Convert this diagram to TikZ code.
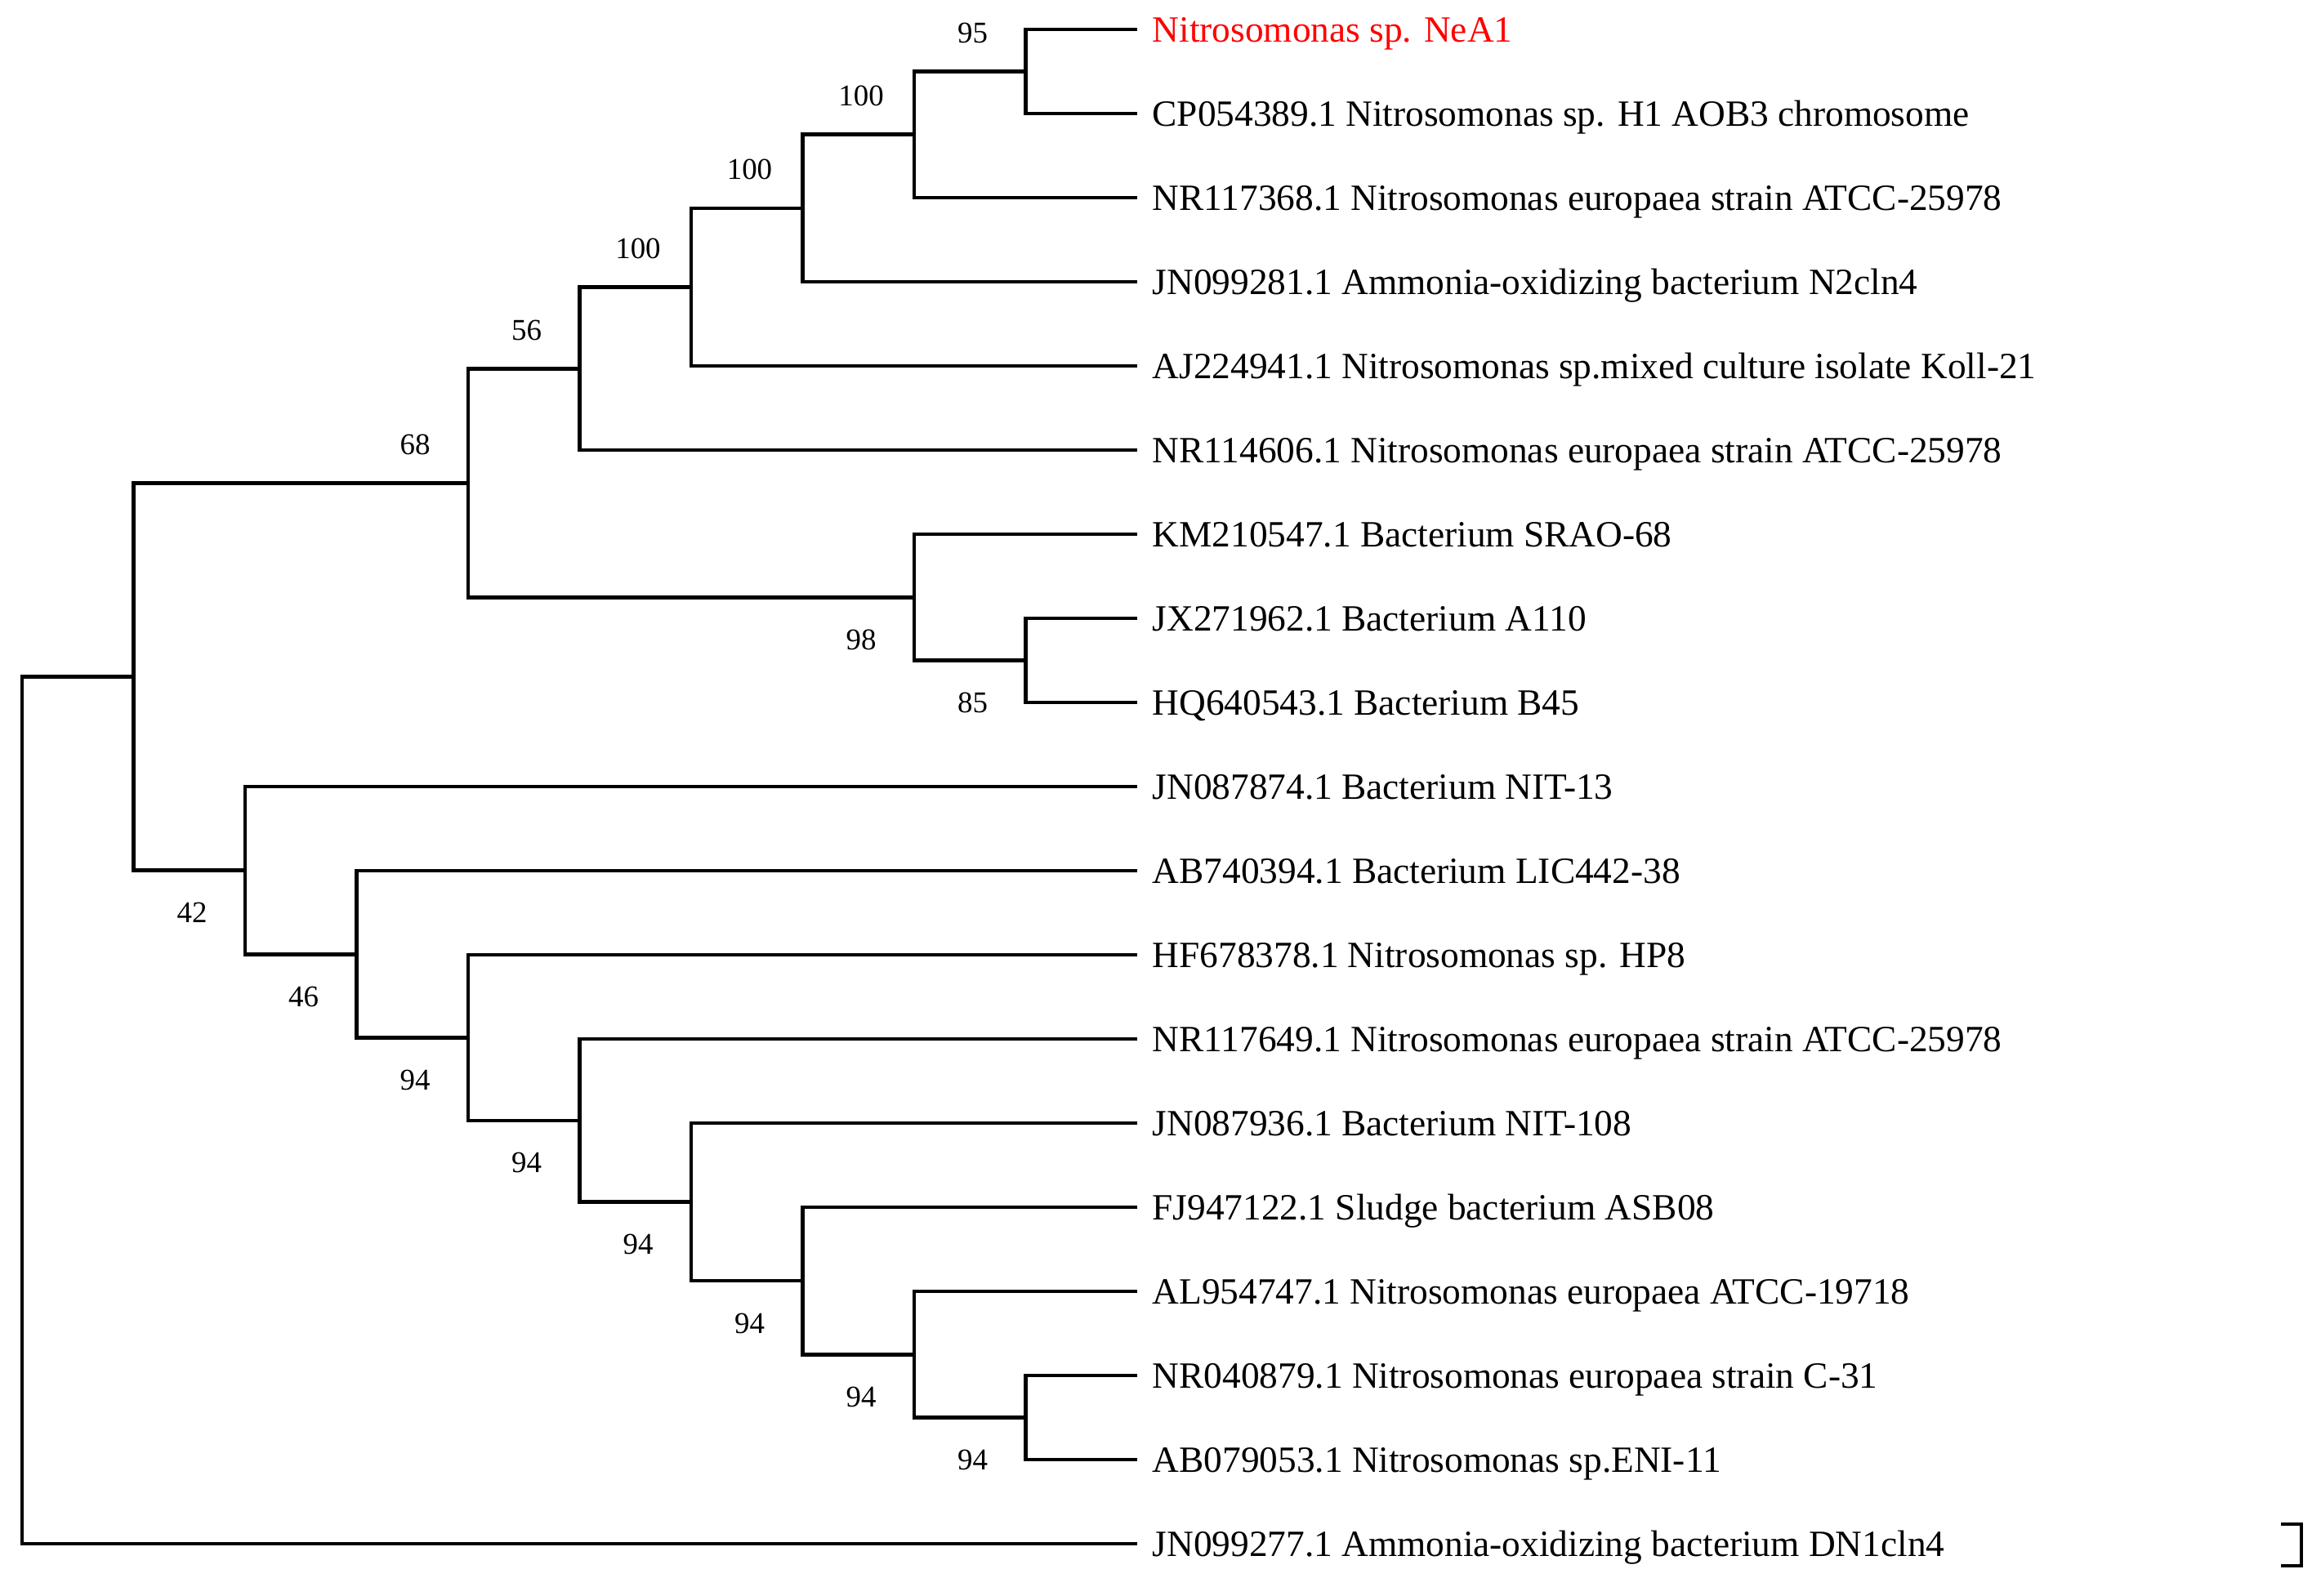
\documentclass[tikz,border=0pt]{standalone}
\usepackage{fontspec}
\setmainfont{Liberation Serif}
\usetikzlibrary{positioning}

\tikzset{
  branch/.style={line width=1.3pt, line join=miter},
  taxon/.style={anchor=base west, yshift=-4.3pt, inner sep=0pt, font=\fontsize{12.9}{15}\selectfont},
  boot/.style={inner sep=0pt, font=\fontsize{10.5}{12}\selectfont},
}

\begin{document}
\begin{tikzpicture}[x=1.365cm, y=-1.03cm]

	% parameters
	\def\gap{0.18cm}    % tip to taxon name
	\def\bx{-0.65cm}    % bootstrap shift, left of node
	\def\bup{0.47cm}    % bootstrap above branch
	\def\bdn{-0.52cm}   % bootstrap below branch

	\useasboundingbox (-0.27cm,0.36cm) rectangle (28.03cm,-19.17cm);

	% tips
	\coordinate (t0) at (10,0);
	\coordinate (t1) at (10,1);
	\coordinate (t2) at (10,2);
	\coordinate (t3) at (10,3);
	\coordinate (t4) at (10,4);
	\coordinate (t5) at (10,5);
	\coordinate (t6) at (10,6);
	\coordinate (t7) at (10,7);
	\coordinate (t8) at (10,8);
	\coordinate (t9) at (10,9);
	\coordinate (t10) at (10,10);
	\coordinate (t11) at (10,11);
	\coordinate (t12) at (10,12);
	\coordinate (t13) at (10,13);
	\coordinate (t14) at (10,14);
	\coordinate (t15) at (10,15);
	\coordinate (t16) at (10,16);
	\coordinate (t17) at (10,17);
	\coordinate (t18) at (10,18);

	% taxon names
	\node[right=\gap of t0, taxon, text=red] (neA1) {Nitrosomonas sp. NeA1};
	\node[right=\gap of t1, taxon] (cp054389) {CP054389.1 Nitrosomonas sp. H1 AOB3 chromosome};
	\node[right=\gap of t2, taxon] (nr117368) {NR117368.1 Nitrosomonas europaea strain ATCC-25978};
	\node[right=\gap of t3, taxon] (jn099281) {JN099281.1 Ammonia-oxidizing bacterium N2cln4};
	\node[right=\gap of t4, taxon] (aj224941) {AJ224941.1 Nitrosomonas sp.mixed culture isolate Koll-21};
	\node[right=\gap of t5, taxon] (nr114606) {NR114606.1 Nitrosomonas europaea strain ATCC-25978};
	\node[right=\gap of t6, taxon] (km210547) {KM210547.1 Bacterium SRAO-68};
	\node[right=\gap of t7, taxon] (jx271962) {JX271962.1 Bacterium A110};
	\node[right=\gap of t8, taxon] (hq640543) {HQ640543.1 Bacterium B45};
	\node[right=\gap of t9, taxon] (jn087874) {JN087874.1 Bacterium NIT-13};
	\node[right=\gap of t10, taxon] (ab740394) {AB740394.1 Bacterium LIC442-38};
	\node[right=\gap of t11, taxon] (hf678378) {HF678378.1 Nitrosomonas sp. HP8};
	\node[right=\gap of t12, taxon] (nr117649) {NR117649.1 Nitrosomonas europaea strain ATCC-25978};
	\node[right=\gap of t13, taxon] (jn087936) {JN087936.1 Bacterium NIT-108};
	\node[right=\gap of t14, taxon] (fj947122) {FJ947122.1 Sludge bacterium ASB08};
	\node[right=\gap of t15, taxon] (al954747) {AL954747.1 Nitrosomonas europaea ATCC-19718};
	\node[right=\gap of t16, taxon] (nr040879) {NR040879.1 Nitrosomonas europaea strain C-31};
	\node[right=\gap of t17, taxon] (ab079053) {AB079053.1 Nitrosomonas sp.ENI-11};
	\node[right=\gap of t18, taxon] (jn099277) {JN099277.1 Ammonia-oxidizing bacterium DN1cln4};

	% internal nodes (x = depth, y = mean of children)
	\coordinate (n95)  at (9,0.5);
	\coordinate (n100c) at (8,1.25);
	\coordinate (n100b) at (7,2.125);
	\coordinate (n100a) at (6,3.0625);
	\coordinate (n56)  at (5,4.03125);
	\coordinate (n85)  at (9,7.5);
	\coordinate (n98)  at (8,6.75);
	\coordinate (n68)  at (4,5.390625);
	\coordinate (n94f) at (9,16.5);
	\coordinate (n94e) at (8,15.75);
	\coordinate (n94d) at (7,14.875);
	\coordinate (n94c) at (6,13.9375);
	\coordinate (n94b) at (5,12.96875);
	\coordinate (n94a) at (4,11.984375);
	\coordinate (n46)  at (3,10.9921875);
	\coordinate (n42)  at (2,9.99609375);
	\coordinate (nA)   at (1,7.693359375);
	\coordinate (root) at (0,12.85);

	% upper clade
	\draw[branch] (n95) |- (t0) (n95) |- (t1);
	\draw[branch] (n100c) |- (n95) (n100c) |- (t2);
	\draw[branch] (n100b) |- (n100c) (n100b) |- (t3);
	\draw[branch] (n100a) |- (n100b) (n100a) |- (t4);
	\draw[branch] (n56) |- (n100a) (n56) |- (t5);
	\draw[branch] (n85) |- (t7) (n85) |- (t8);
	\draw[branch] (n98) |- (t6) (n98) |- (n85);
	\draw[branch] (n68) |- (n56) (n68) |- (n98);

	% lower clade
	\draw[branch] (n94f) |- (t16) (n94f) |- (t17);
	\draw[branch] (n94e) |- (t15) (n94e) |- (n94f);
	\draw[branch] (n94d) |- (t14) (n94d) |- (n94e);
	\draw[branch] (n94c) |- (t13) (n94c) |- (n94d);
	\draw[branch] (n94b) |- (t12) (n94b) |- (n94c);
	\draw[branch] (n94a) |- (t11) (n94a) |- (n94b);
	\draw[branch] (n46) |- (t10) (n46) |- (n94a);
	\draw[branch] (n42) |- (t9) (n42) |- (n46);

	% base
	\draw[branch] (nA) |- (n68) (nA) |- (n42);
	\draw[branch] (root) |- (nA) (root) |- (t18);

	% bootstrap values
	\node[boot] (s95)  at ([shift={(\bx,\bup)}]n95) {95};
	\node[boot] (s100c) at ([shift={(\bx,\bup)}]n100c) {100};
	\node[boot] (s100b) at ([shift={(\bx,\bup)}]n100b) {100};
	\node[boot] (s100a) at ([shift={(\bx,\bup)}]n100a) {100};
	\node[boot] (s56)  at ([shift={(\bx,\bup)}]n56) {56};
	\node[boot] (s68)  at ([shift={(\bx,\bup)}]n68) {68};
	\node[boot] (s98)  at ([shift={(\bx,\bdn)}]n98) {98};
	\node[boot] (s85)  at ([shift={(\bx,\bdn)}]n85) {85};
	\node[boot] (s42)  at ([shift={(\bx,\bdn)}]n42) {42};
	\node[boot] (s46)  at ([shift={(\bx,\bdn)}]n46) {46};
	\node[boot] (s94a) at ([shift={(\bx,\bdn)}]n94a) {94};
	\node[boot] (s94b) at ([shift={(\bx,\bdn)}]n94b) {94};
	\node[boot] (s94c) at ([shift={(\bx,\bdn)}]n94c) {94};
	\node[boot] (s94d) at ([shift={(\bx,\bdn)}]n94d) {94};
	\node[boot] (s94e) at ([shift={(\bx,\bdn)}]n94e) {94};
	\node[boot] (s94f) at ([shift={(\bx,\bdn)}]n94f) {94};

	% scale bar
	\coordinate (bar) at (27.65cm,-18.30cm);
	\draw[branch] (bar) -- ++(0.25cm,0) -- ++(0,-0.51cm) -- ++(-0.25cm,0);

\end{tikzpicture}
\end{document}
